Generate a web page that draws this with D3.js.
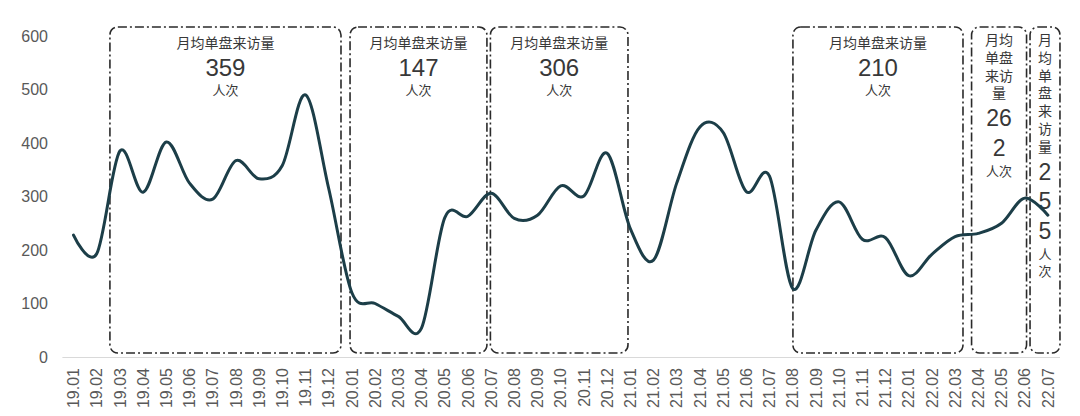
<!DOCTYPE html>
<html><head><meta charset="utf-8">
<script src="https://cdn.jsdelivr.net/npm/d3@7"></script>
<style>body{margin:0;background:#fff}svg{display:block}</style>
</head><body><svg id="c" width="1080" height="416"></svg>
<script>
const months = ["19.01","19.02","19.03","19.04","19.05","19.06","19.07","19.08","19.09","19.10","19.11","19.12",
"20.01","20.02","20.03","20.04","20.05","20.06","20.07","20.08","20.09","20.10","20.11","20.12",
"21.01","21.02","21.03","21.04","21.05","21.06","21.07","21.08","21.09","21.10","21.11","21.12",
"22.01","22.02","22.03","22.04","22.05","22.06","22.07"];
const visits = [228,193,385,308,402,325,295,367,333,358,490,315,
120,100,76,54,260,263,306,259,265,320,301,381,
240,181,325,430,420,309,338,128,237,290,220,223,
152,192,225,231,250,297,265];
const yTicks = [0,100,200,300,400,500,600];
const boxTitle = "月均单盘来访量";
const boxUnit = "人次";
const boxValues = ["359","147","306","210","262","255"];
const boxFrom = [1.57,11.92,17.97,31.01,38.71,41.23];
const boxTo = [11.53,17.82,23.9,38.34,41.08,42.52];
const boxChars = [7,7,7,7,2,1];

const svg = d3.select("#c");
const x = d3.scaleBand().domain(months).range([61.9,1059.5]).padding(0);
const xc = m => x(m) + x.bandwidth()/2;
const xIdx = d3.scaleLinear().domain([-0.5, months.length-0.5]).range(x.range());
const y = d3.scaleLinear().domain([0,600]).range([357,36]);

// y axis
const ya = svg.append("g").attr("transform","translate(56,0)")
  .call(d3.axisLeft(y).tickValues(yTicks).tickSize(0).tickPadding(8));
ya.select(".domain").remove();
ya.selectAll("text").attr("fill","#595959").style("font-family","'Liberation Sans',Arial,sans-serif").style("font-size","16px");

// x axis
const xa = svg.append("g").attr("transform","translate(0,357)")
  .call(d3.axisBottom(x).tickSize(0).tickSizeOuter(0));
xa.select(".domain").attr("stroke","#d9d9d9").attr("stroke-width",1);
xa.selectAll("text").attr("transform","rotate(-90)").attr("x",-11).attr("y",0).attr("dy","0.35em")
  .style("text-anchor","end").attr("fill","#595959")
  .style("font-family","'Liberation Sans',Arial,sans-serif").style("font-size","16px");

// boxes
const boxes = boxValues.map((v,i)=>({v, from:boxFrom[i], to:boxTo[i], n:boxChars[i]}));
const bg = svg.append("g");
bg.selectAll("rect").data(boxes).join("rect")
  .attr("x", d=>xIdx(d.from)).attr("width", d=>xIdx(d.to)-xIdx(d.from))
  .attr("y",27).attr("height",326).attr("rx",8).attr("ry",8)
  .attr("fill","none").attr("stroke","#2a2a2a").attr("stroke-width",1.6)
  .attr("stroke-dasharray","9,3,2,3");

function chunk(s,n){const out=[];for(let i=0;i<s.length;i+=n)out.push(s.slice(i,i+n));return out;}
function group(cx, y0, step, parts, size, family){
  const t = bg.append("text").attr("text-anchor","middle").attr("dominant-baseline","central")
    .attr("fill","#383838").style("font-family",family).style("font-size",size+"px");
  parts.forEach((p,k)=>t.append("tspan").attr("x",cx).attr("y",y0+k*step).text(p));
  return y0 + (parts.length-1)*step;
}
const cjk = "'Liberation Sans','Noto Sans CJK SC',sans-serif";
const num = "'Liberation Sans',Arial,sans-serif";
boxes.forEach(d=>{
  const cx = (xIdx(d.from)+xIdx(d.to))/2;
  const wide = d.n>=7;
  let yy = group(cx, wide?43:40, 17.8, chunk(boxTitle,d.n), 14, cjk);
  yy = group(cx, yy+(wide?24:25), 29.5, chunk(d.v, wide?3:d.n), wide?24:23, num);
  group(cx, yy+(wide?23:23), 17.5, chunk(boxUnit, wide?2:d.n), 13, cjk);
});

// line
const line = d3.line().x((d,i)=>xc(months[i])).y(d=>y(d)).curve(d3.curveCardinal.tension(0));
svg.append("path").datum(visits).attr("d",line).attr("fill","none")
  .attr("stroke","#1c3e48").attr("stroke-width",3).attr("stroke-linejoin","round").attr("stroke-linecap","round");
</script></body></html>
